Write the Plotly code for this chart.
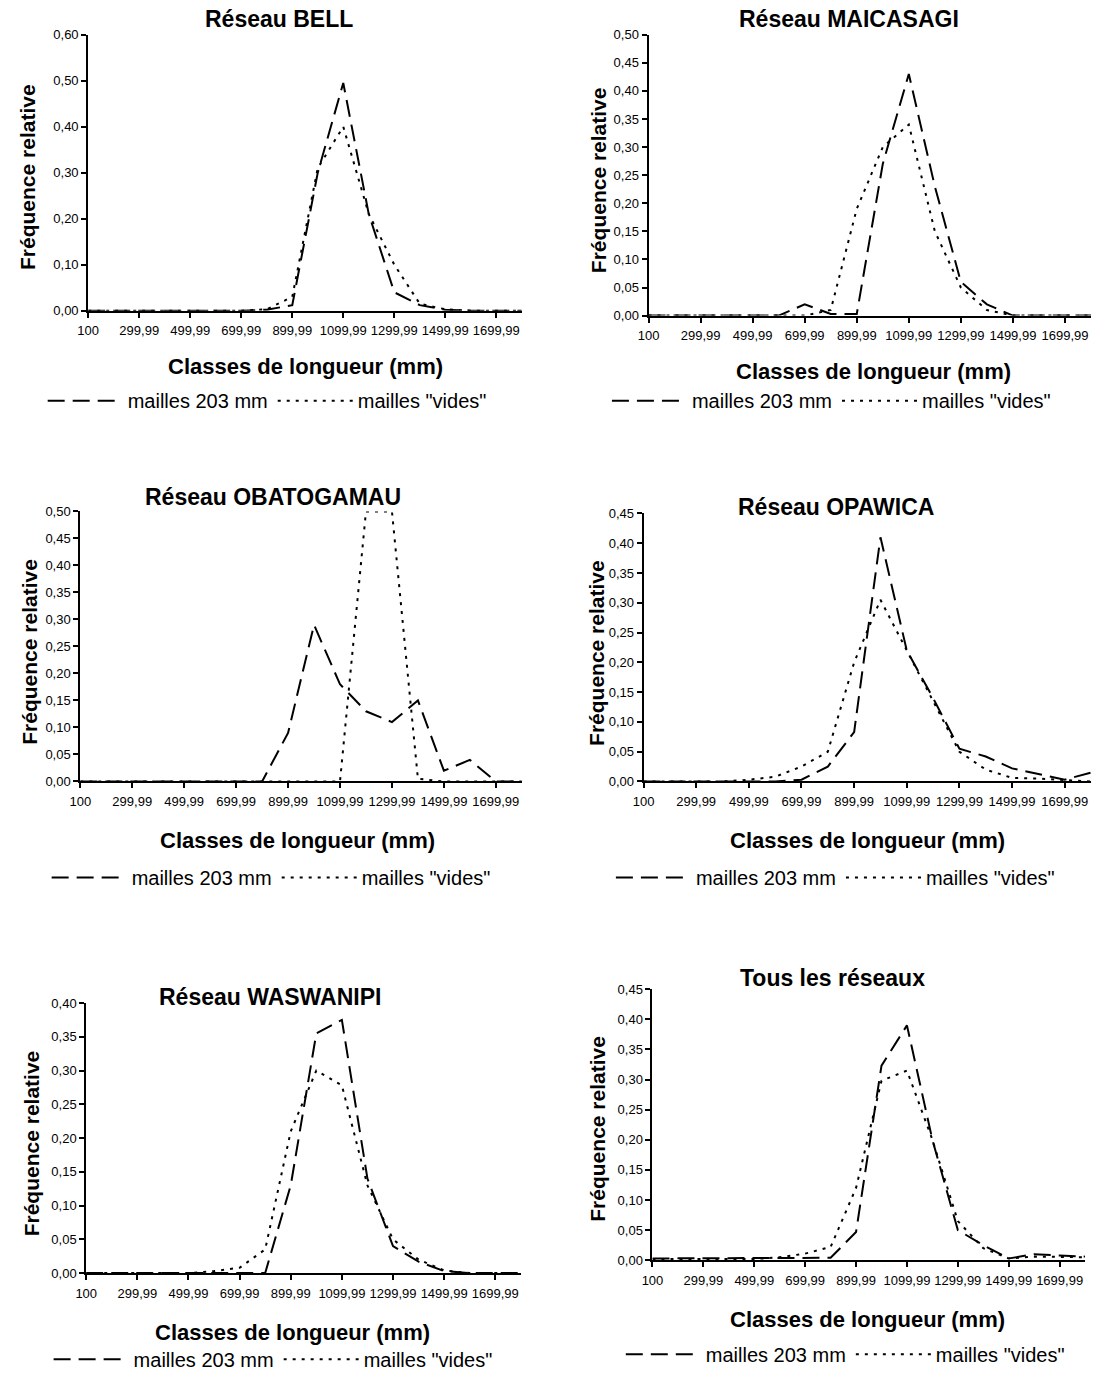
import plotly.graph_objects as go

# Length classes (mm) shared by every panel
classes = ["100", "199,99", "299,99", "399,99", "499,99", "599,99", "699,99",
           "799,99", "899,99", "999,99", "1099,99", "1199,99", "1299,99",
           "1399,99", "1499,99", "1599,99", "1699,99", "1799,99"]
tick_labels = ["100", "299,99", "499,99", "699,99", "899,99", "1099,99",
               "1299,99", "1499,99", "1699,99"]

series_names = ["mailles 203 mm", 'mailles "vides"']

panel_titles = ["Réseau BELL", "Réseau MAICASAGI", "Réseau OBATOGAMAU",
                "Réseau OPAWICA", "Réseau WASWANIPI", "Tous les réseaux"]

# Relative frequency per length class
bell_203 = [0, 0, 0, 0, 0, 0, 0, 0.002, 0.012, 0.30, 0.495, 0.21, 0.04, 0.012, 0.002, 0, 0, 0]
bell_vides = [0, 0, 0, 0, 0, 0, 0, 0.003, 0.03, 0.31, 0.40, 0.21, 0.10, 0.015, 0.003, 0, 0, 0]

maicasagi_203 = [0, 0, 0, 0, 0, 0, 0.02, 0.003, 0.003, 0.27, 0.43, 0.23, 0.06, 0.02, 0, 0, 0, 0]
maicasagi_vides = [0, 0, 0, 0, 0, 0, 0, 0.01, 0.19, 0.30, 0.34, 0.15, 0.05, 0.01, 0, 0, 0, 0]

obatogamau_203 = [0, 0, 0, 0, 0, 0, 0, 0, 0.09, 0.29, 0.18, 0.13, 0.11, 0.15, 0.02, 0.04, 0, 0]
obatogamau_vides = [0, 0, 0, 0, 0, 0, 0, 0, 0, 0, 0, 0.50, 0.50, 0.005, 0, 0, 0, 0]

opawica_203 = [0, 0, 0, 0, 0, 0, 0.003, 0.025, 0.083, 0.41, 0.22, 0.14, 0.055, 0.042, 0.022, 0.012, 0.003, 0.015]
opawica_vides = [0, 0, 0, 0, 0.003, 0.008, 0.025, 0.05, 0.20, 0.305, 0.22, 0.135, 0.05, 0.02, 0.006, 0.005, 0.002, 0]

waswanipi_203 = [0, 0, 0, 0, 0, 0, 0, 0, 0.13, 0.355, 0.375, 0.14, 0.04, 0.017, 0.003, 0, 0, 0]
waswanipi_vides = [0, 0, 0, 0, 0, 0.003, 0.008, 0.035, 0.21, 0.30, 0.278, 0.13, 0.05, 0.02, 0.004, 0, 0, 0]

tous_203 = [0.003, 0.003, 0.003, 0.003, 0.003, 0.003, 0.004, 0.004, 0.047, 0.323, 0.39, 0.20, 0.05, 0.025, 0.003, 0.01, 0.008, 0.006]
tous_vides = [0.002, 0.002, 0.002, 0.002, 0.002, 0.005, 0.011, 0.022, 0.12, 0.298, 0.315, 0.20, 0.065, 0.02, 0.003, 0.006, 0.005, 0.005]

series_203 = [bell_203, maicasagi_203, obatogamau_203, opawica_203, waswanipi_203, tous_203]
series_vides = [bell_vides, maicasagi_vides, obatogamau_vides, opawica_vides, waswanipi_vides, tous_vides]

y_max = [0.60, 0.50, 0.50, 0.45, 0.40, 0.45]
y_step = [0.10, 0.05, 0.05, 0.05, 0.05, 0.05]

W, H = 1093, 1381
FONT = "Liberation Sans, Arial, sans-serif"

# Panel geometry in pixels: plot left, plot right, plot top, plot bottom
plot_box = [
    (78, 516, 28, 307),
    (644, 1091, 28, 312),
    (70, 516, 510, 783),
    (639, 1091, 512, 783),
    (76, 515, 1007, 1280),
    (648, 1085, 993, 1267),
]
# Title, x-axis title, y-axis title centres and legend anchor (pixels)
title_pos = [(271, 12), (847, 12), (265, 495), (833, 505), (262, 1001), (830, 982)]
xtitle_pos = [(297, 363), (871, 368), (289, 843), (865, 843), (284, 1340), (865, 1327)]
ytitle_pos = [(16, 172), (593, 175), (19, 652), (592, 653), (21, 1149), (593, 1134)]
legend_pos = [(32, 398), (602, 398), (36, 880), (606, 880), (38, 1367), (616, 1362)]


def px_x(v):
    return v / W


def px_y(v):
    return 1 - v / H


fig = go.Figure()
annotations = []
layout_axes = {}

for i in range(6):
    n = "" if i == 0 else str(i + 1)
    xa, ya = "x" + n, "y" + n
    leg = "legend" + n
    fig.add_trace(go.Scatter(
        x=classes, y=series_203[i], mode="lines", name=series_names[0],
        xaxis=xa, yaxis=ya, legend=leg,
        line=dict(color="black", width=2, dash="17px,8px"),
    ))
    fig.add_trace(go.Scatter(
        x=classes, y=series_vides[i], mode="lines", name=series_names[1],
        xaxis=xa, yaxis=ya, legend=leg,
        line=dict(color="black", width=2, dash="3px,6px"),
    ))

    x0, x1, yt, yb = plot_box[i]
    layout_axes["xaxis" + n] = dict(
        domain=[px_x(x0), px_x(x1)], anchor=ya,
        type="category", categoryorder="array", categoryarray=classes,
        range=[0, len(classes) - 1],
        tickmode="array", tickvals=tick_labels, ticktext=tick_labels,
        tickangle=0, ticklabelstandoff=2,
        showline=True, linecolor="black", linewidth=2,
        ticks="outside", ticklen=5, tickwidth=2, tickcolor="black",
        showgrid=False, zeroline=False,
        tickfont=dict(family=FONT, size=13, color="black"),
    )
    layout_axes["yaxis" + n] = dict(
        domain=[px_y(yb), px_y(yt)], anchor=xa,
        range=[0, y_max[i]], dtick=y_step[i], tick0=0, tickformat=".2f",
        showline=True, linecolor="black", linewidth=2,
        ticks="outside", ticklen=5, tickwidth=2, tickcolor="black",
        showgrid=False, zeroline=False,
        tickfont=dict(family=FONT, size=13, color="black"),
    )

    tx, ty = title_pos[i]
    annotations.append(dict(
        text="<b>%s</b>" % panel_titles[i], x=px_x(tx), y=px_y(ty),
        xref="paper", yref="paper", showarrow=False,
        xanchor="center", yanchor="middle",
        font=dict(family=FONT, size=23, color="black"),
    ))
    cx, cy = xtitle_pos[i]
    annotations.append(dict(
        text="<b>Classes de longueur (mm)</b>", x=px_x(cx), y=px_y(cy),
        xref="paper", yref="paper", showarrow=False,
        xanchor="center", yanchor="middle",
        font=dict(family=FONT, size=22, color="black"),
    ))
    vx, vy = ytitle_pos[i]
    annotations.append(dict(
        text="<b>Fréquence relative</b>", x=px_x(vx), y=px_y(vy),
        xref="paper", yref="paper", showarrow=False, textangle=-90,
        xanchor="center", yanchor="middle",
        font=dict(family=FONT, size=21, color="black"),
    ))
    lx, ly = legend_pos[i]
    layout_axes[leg] = dict(
        x=px_x(lx), y=px_y(ly), xanchor="left", yanchor="middle",
        orientation="h", itemwidth=75, bgcolor="rgba(0,0,0,0)",
        font=dict(family=FONT, size=20, color="black"),
        tracegroupgap=0, traceorder="normal",
    )

fig.update_layout(
    width=W, height=H,
    margin=dict(l=0, r=0, t=0, b=0),
    paper_bgcolor="white", plot_bgcolor="white",
    separators=", ",
    showlegend=True,
    annotations=annotations,
    font=dict(family=FONT, color="black"),
    **layout_axes,
)

fig.write_html("out.html")
